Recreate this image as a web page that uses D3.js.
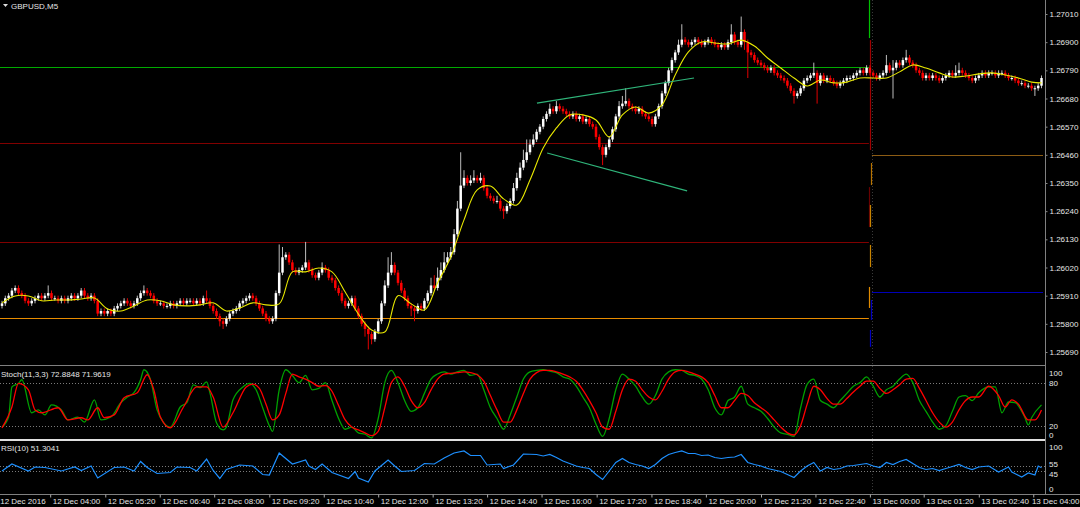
<!DOCTYPE html>
<html><head><meta charset="utf-8">
<script src="https://cdn.jsdelivr.net/npm/d3@7"></script>
<style>html,body{margin:0;padding:0;background:#000;overflow:hidden}svg{display:block}</style>
</head><body>
<svg id="c" width="1080" height="507"></svg>
<script>
// ---------------- DATA ----------------
const chartTitle = "GBPUSD,M5";
const stochTitle = "Stoch(11,3,3) 72.8848 71.9619";
const rsiTitle = "RSI(10) 51.3041";

const openP = [1.2587,1.2588,1.2590,1.2591,1.2593,1.2594,1.2592,1.2591,1.2589,1.2588,
1.2589,1.2590,1.2591,1.2590,1.2591,1.2592,1.2590,1.2590,1.2589,1.2590,
1.2589,1.2590,1.2591,1.2590,1.2591,1.2593,1.2591,1.2590,1.2591,1.2589,
1.2584,1.2585,1.2584,1.2585,1.2584,1.2586,1.2587,1.2588,1.2589,1.2588,
1.2587,1.2588,1.2590,1.2592,1.2593,1.2592,1.2591,1.2589,1.2588,1.2588,
1.2587,1.2587,1.2588,1.2587,1.2588,1.2589,1.2588,1.2589,1.2589,1.2588,
1.2589,1.2588,1.2590,1.2589,1.2587,1.2585,1.2583,1.2581,1.2580,1.2582,
1.2584,1.2585,1.2586,1.2588,1.2589,1.2590,1.2591,1.2590,1.2588,1.2586,
1.2584,1.2582,1.2581,1.2582,1.2592,1.2600,1.2606,1.2607,1.2604,1.2601,
1.2600,1.2601,1.2602,1.2604,1.2601,1.2599,1.2598,1.2600,1.2602,1.2601,
1.2598,1.2597,1.2594,1.2592,1.2589,1.2587,1.2588,1.2590,1.2586,1.2583,
1.2580,1.2578,1.2576,1.2574,1.2577,1.2581,1.2588,1.2595,1.2600,1.2603,
1.2600,1.2596,1.2593,1.2590,1.2587,1.2586,1.2585,1.2587,1.2586,1.2589,
1.2592,1.2595,1.2594,1.2598,1.2601,1.2604,1.2606,1.2608,1.2615,1.2625,
1.2634,1.2637,1.2635,1.2636,1.2637,1.2636,1.2637,1.2633,1.2630,1.2629,
1.2628,1.2628,1.2625,1.2624,1.2626,1.2628,1.2633,1.2637,1.2641,1.2644,
1.2647,1.2650,1.2652,1.2655,1.2657,1.2660,1.2662,1.2664,1.2663,1.2665,
1.2664,1.2663,1.2662,1.2661,1.2662,1.2660,1.2661,1.2659,1.2660,1.2658,
1.2657,1.2653,1.2649,1.2646,1.2649,1.2652,1.2656,1.2661,1.2665,1.2666,
1.2667,1.2665,1.2664,1.2663,1.2664,1.2662,1.2661,1.2660,1.2658,1.2661,
1.2665,1.2670,1.2674,1.2679,1.2683,1.2686,1.2689,1.2691,1.2690,1.2689,
1.2690,1.2691,1.2690,1.2689,1.2690,1.2691,1.2690,1.2689,1.2688,1.2689,
1.2688,1.2690,1.2693,1.2690,1.2689,1.2694,1.2690,1.2686,1.2685,1.2683,
1.2682,1.2681,1.2680,1.2679,1.2680,1.2678,1.2677,1.2676,1.2675,1.2673,
1.2671,1.2669,1.2670,1.2672,1.2675,1.2676,1.2677,1.2678,1.2674,1.2677,
1.2675,1.2676,1.2675,1.2674,1.2673,1.2674,1.2675,1.2676,1.2676,1.2677,
1.2678,1.2679,1.2678,1.2680,1.2678,1.2677,1.2676,1.2677,1.2678,1.2681,
1.2679,1.2680,1.2682,1.2681,1.2683,1.2684,1.2682,1.2681,1.2679,1.2678,
1.2676,1.2677,1.2676,1.2677,1.2676,1.2675,1.2676,1.2677,1.2678,1.2677,
1.2678,1.2679,1.2678,1.2677,1.2676,1.2675,1.2676,1.2677,1.2678,1.2677,
1.2678,1.2678,1.2677,1.2678,1.2678,1.2677,1.2676,1.2676,1.2675,1.2674,
1.2674,1.2673,1.2673,1.2672,1.2672,1.2673];

const highP = [1.2589,1.2591,1.2592,1.2594,1.2595,1.2595,1.2593,1.2592,1.2590,1.2590,
1.2591,1.2592,1.2592,1.2592,1.2595,1.2593,1.2591,1.2591,1.2591,1.2591,
1.2591,1.2592,1.2592,1.2592,1.2594,1.2594,1.2592,1.2592,1.2592,1.2590,
1.2586,1.2586,1.2586,1.2586,1.2587,1.2588,1.2589,1.2590,1.2590,1.2589,
1.2589,1.2591,1.2593,1.2595,1.2594,1.2593,1.2592,1.2590,1.2589,1.2589,
1.2588,1.2589,1.2589,1.2589,1.2590,1.2590,1.2590,1.2590,1.2590,1.2590,
1.2590,1.2591,1.2593,1.2590,1.2588,1.2586,1.2584,1.2582,1.2583,1.2585,
1.2586,1.2587,1.2589,1.2590,1.2591,1.2592,1.2592,1.2591,1.2589,1.2587,
1.2585,1.2583,1.2583,1.2593,1.2611,1.2610,1.2608,1.2608,1.2605,1.2602,
1.2602,1.2603,1.2612,1.2605,1.2602,1.2600,1.2601,1.2604,1.2603,1.2602,
1.2599,1.2598,1.2595,1.2593,1.2590,1.2589,1.2591,1.2591,1.2587,1.2584,
1.2581,1.2579,1.2577,1.2578,1.2582,1.2589,1.2597,1.2606,1.2608,1.2604,
1.2601,1.2597,1.2594,1.2591,1.2588,1.2587,1.2588,1.2588,1.2590,1.2593,
1.2598,1.2599,1.2602,1.2604,1.2608,1.2608,1.2610,1.2617,1.2628,1.2647,
1.2640,1.2638,1.2638,1.2640,1.2638,1.2639,1.2638,1.2634,1.2631,1.2630,
1.2630,1.2629,1.2626,1.2627,1.2629,1.2635,1.2639,1.2643,1.2648,1.2652,
1.2652,1.2654,1.2656,1.2658,1.2661,1.2663,1.2666,1.2665,1.2667,1.2666,
1.2665,1.2664,1.2663,1.2663,1.2663,1.2662,1.2662,1.2661,1.2661,1.2659,
1.2658,1.2654,1.2650,1.2650,1.2653,1.2657,1.2662,1.2667,1.2669,1.2672,
1.2668,1.2666,1.2665,1.2665,1.2665,1.2663,1.2662,1.2661,1.2662,1.2666,
1.2671,1.2675,1.2680,1.2684,1.2687,1.2691,1.2697,1.2692,1.2691,1.2691,
1.2692,1.2692,1.2691,1.2691,1.2692,1.2692,1.2691,1.2690,1.2690,1.2690,
1.2691,1.2697,1.2694,1.2691,1.2700,1.2695,1.2691,1.2687,1.2686,1.2684,
1.2683,1.2682,1.2681,1.2681,1.2681,1.2679,1.2678,1.2677,1.2676,1.2674,
1.2672,1.2671,1.2673,1.2676,1.2677,1.2678,1.2682,1.2679,1.2678,1.2678,
1.2677,1.2677,1.2676,1.2675,1.2675,1.2676,1.2677,1.2677,1.2678,1.2679,
1.2680,1.2680,1.2681,1.2681,1.2679,1.2678,1.2678,1.2679,1.2685,1.2682,
1.2683,1.2683,1.2683,1.2684,1.2687,1.2685,1.2683,1.2682,1.2680,1.2679,
1.2678,1.2678,1.2678,1.2678,1.2677,1.2677,1.2678,1.2679,1.2679,1.2681,
1.2682,1.2680,1.2679,1.2678,1.2677,1.2677,1.2678,1.2679,1.2679,1.2679,
1.2679,1.2679,1.2679,1.2679,1.2679,1.2678,1.2677,1.2677,1.2676,1.2675,
1.2675,1.2674,1.2674,1.2673,1.2674,1.2677];

const lowP = [1.2586,1.2587,1.2589,1.2590,1.2592,1.2591,1.2590,1.2588,1.2587,1.2587,
1.2588,1.2589,1.2589,1.2589,1.2590,1.2589,1.2589,1.2588,1.2588,1.2588,
1.2588,1.2589,1.2589,1.2589,1.2590,1.2590,1.2589,1.2589,1.2588,1.2583,
1.2583,1.2583,1.2583,1.2583,1.2583,1.2585,1.2586,1.2587,1.2587,1.2586,
1.2586,1.2587,1.2589,1.2591,1.2591,1.2590,1.2588,1.2587,1.2587,1.2586,
1.2586,1.2586,1.2586,1.2586,1.2587,1.2587,1.2587,1.2588,1.2587,1.2587,
1.2587,1.2587,1.2588,1.2586,1.2584,1.2582,1.2579,1.2578,1.2579,1.2581,
1.2583,1.2584,1.2585,1.2587,1.2588,1.2589,1.2589,1.2587,1.2585,1.2583,
1.2581,1.2580,1.2580,1.2581,1.2591,1.2599,1.2605,1.2603,1.2600,1.2599,
1.2599,1.2600,1.2601,1.2600,1.2598,1.2597,1.2597,1.2599,1.2600,1.2597,
1.2596,1.2593,1.2591,1.2588,1.2586,1.2586,1.2587,1.2585,1.2582,1.2579,
1.2575,1.2570,1.2572,1.2573,1.2576,1.2580,1.2587,1.2594,1.2599,1.2599,
1.2595,1.2592,1.2589,1.2586,1.2583,1.2581,1.2584,1.2585,1.2585,1.2588,
1.2591,1.2593,1.2593,1.2597,1.2600,1.2603,1.2605,1.2607,1.2614,1.2624,
1.2633,1.2634,1.2634,1.2635,1.2635,1.2635,1.2632,1.2629,1.2628,1.2627,
1.2627,1.2624,1.2621,1.2623,1.2625,1.2627,1.2632,1.2636,1.2640,1.2643,
1.2646,1.2649,1.2651,1.2654,1.2656,1.2659,1.2661,1.2662,1.2662,1.2663,
1.2662,1.2661,1.2660,1.2660,1.2659,1.2659,1.2658,1.2658,1.2657,1.2656,
1.2652,1.2648,1.2642,1.2645,1.2648,1.2651,1.2655,1.2660,1.2664,1.2665,
1.2664,1.2663,1.2662,1.2662,1.2661,1.2660,1.2659,1.2657,1.2657,1.2660,
1.2664,1.2669,1.2673,1.2678,1.2682,1.2685,1.2688,1.2689,1.2688,1.2688,
1.2689,1.2689,1.2688,1.2688,1.2689,1.2689,1.2688,1.2687,1.2687,1.2687,
1.2687,1.2689,1.2689,1.2688,1.2688,1.2687,1.2676,1.2684,1.2682,1.2681,
1.2680,1.2679,1.2678,1.2678,1.2677,1.2676,1.2675,1.2674,1.2672,1.2670,
1.2666,1.2668,1.2669,1.2671,1.2674,1.2675,1.2676,1.2666,1.2673,1.2674,
1.2674,1.2674,1.2673,1.2672,1.2672,1.2673,1.2674,1.2675,1.2675,1.2676,
1.2677,1.2677,1.2677,1.2677,1.2676,1.2675,1.2675,1.2676,1.2677,1.2678,
1.2668,1.2679,1.2680,1.2680,1.2682,1.2681,1.2680,1.2678,1.2677,1.2675,
1.2675,1.2675,1.2675,1.2675,1.2674,1.2674,1.2675,1.2676,1.2676,1.2676,
1.2677,1.2677,1.2676,1.2675,1.2674,1.2674,1.2675,1.2676,1.2676,1.2676,
1.2677,1.2676,1.2676,1.2677,1.2676,1.2675,1.2675,1.2674,1.2673,1.2673,
1.2672,1.2672,1.2671,1.2669,1.2671,1.2672];

const closeP = [1.2588,1.2590,1.2591,1.2593,1.2594,1.2592,1.2591,1.2589,1.2588,1.2589,
1.2590,1.2591,1.2590,1.2591,1.2592,1.2590,1.2590,1.2589,1.2590,1.2589,
1.2590,1.2591,1.2590,1.2591,1.2593,1.2591,1.2590,1.2591,1.2589,1.2584,
1.2585,1.2584,1.2585,1.2584,1.2586,1.2587,1.2588,1.2589,1.2588,1.2587,
1.2588,1.2590,1.2592,1.2593,1.2592,1.2591,1.2589,1.2588,1.2588,1.2587,
1.2587,1.2588,1.2587,1.2588,1.2589,1.2588,1.2589,1.2589,1.2588,1.2589,
1.2588,1.2590,1.2589,1.2587,1.2585,1.2583,1.2581,1.2580,1.2582,1.2584,
1.2585,1.2586,1.2588,1.2589,1.2590,1.2591,1.2590,1.2588,1.2586,1.2584,
1.2582,1.2581,1.2582,1.2592,1.2600,1.2606,1.2607,1.2604,1.2601,1.2600,
1.2601,1.2602,1.2604,1.2601,1.2599,1.2598,1.2600,1.2602,1.2601,1.2598,
1.2597,1.2594,1.2592,1.2589,1.2587,1.2588,1.2590,1.2586,1.2583,1.2580,
1.2578,1.2576,1.2574,1.2577,1.2581,1.2588,1.2595,1.2600,1.2603,1.2600,
1.2596,1.2593,1.2590,1.2587,1.2586,1.2585,1.2587,1.2586,1.2589,1.2592,
1.2595,1.2594,1.2598,1.2601,1.2604,1.2606,1.2608,1.2615,1.2625,1.2634,
1.2637,1.2635,1.2636,1.2637,1.2636,1.2637,1.2633,1.2630,1.2629,1.2628,
1.2628,1.2625,1.2624,1.2626,1.2628,1.2633,1.2637,1.2641,1.2644,1.2647,
1.2650,1.2652,1.2655,1.2657,1.2660,1.2662,1.2664,1.2663,1.2665,1.2664,
1.2663,1.2662,1.2661,1.2662,1.2660,1.2661,1.2659,1.2660,1.2658,1.2657,
1.2653,1.2649,1.2646,1.2649,1.2652,1.2656,1.2661,1.2665,1.2666,1.2667,
1.2665,1.2664,1.2663,1.2664,1.2662,1.2661,1.2660,1.2658,1.2661,1.2665,
1.2670,1.2674,1.2679,1.2683,1.2686,1.2689,1.2691,1.2690,1.2689,1.2690,
1.2691,1.2690,1.2689,1.2690,1.2691,1.2690,1.2689,1.2688,1.2689,1.2688,
1.2690,1.2693,1.2690,1.2689,1.2694,1.2690,1.2686,1.2685,1.2683,1.2682,
1.2681,1.2680,1.2679,1.2680,1.2678,1.2677,1.2676,1.2675,1.2673,1.2671,
1.2669,1.2670,1.2672,1.2675,1.2676,1.2677,1.2678,1.2674,1.2677,1.2675,
1.2676,1.2675,1.2674,1.2673,1.2674,1.2675,1.2676,1.2676,1.2677,1.2678,
1.2679,1.2678,1.2680,1.2678,1.2677,1.2676,1.2677,1.2678,1.2681,1.2679,
1.2680,1.2682,1.2681,1.2683,1.2684,1.2682,1.2681,1.2679,1.2678,1.2676,
1.2677,1.2676,1.2677,1.2676,1.2675,1.2676,1.2677,1.2678,1.2677,1.2678,
1.2679,1.2678,1.2677,1.2676,1.2675,1.2676,1.2677,1.2678,1.2677,1.2678,
1.2678,1.2677,1.2678,1.2678,1.2677,1.2676,1.2676,1.2675,1.2674,1.2674,
1.2673,1.2673,1.2672,1.2672,1.2673,1.2676];

// moving average (yellow), read every 4th bar + last bar
const maValues = [1.25882,1.25909,1.25909,1.25890,1.25893,1.25893,1.25897,1.25901,1.25858,1.25850,
1.25870,1.25893,1.25890,1.25874,1.25870,1.25874,1.25882,1.25850,1.25862,1.25882,
1.25874,1.25878,1.26003,1.26003,1.26018,1.26003,1.25924,1.25838,1.25776,1.25768,
1.25910,1.25878,1.25854,1.25960,1.26061,1.26206,1.26323,1.26338,1.26288,1.26264,
1.26362,1.26487,1.26565,1.26616,1.26616,1.26596,1.26530,1.26616,1.26647,1.26623,
1.26655,1.26772,1.26862,1.26901,1.26897,1.26893,1.26908,1.26885,1.26838,1.26799,
1.26760,1.26729,1.26752,1.26741,1.26744,1.26760,1.26760,1.26760,1.26784,1.26811,
1.26799,1.26780,1.26764,1.26768,1.26776,1.26780,1.26772,1.26760,1.26744,1.26741];

// Stochastic %K (green): bar index + value
const stochKBars = [0,2,3,5,6,9,11,13,15,18,20,23,25,28,30,33,36,38,40,42,43,45,47,49,51,54,56,58,60,62,63,65,67,68,70,73,75,77,79,81,82,84,86,88,90,92,94,96,98,100,102,104,106,108,110,112,114,116,118,120,122,124,126,128,130,132,134,136,138,140,142,144,146,148,150,152,154,156,158,160,162,164,166,168,170,172,174,176,178,180,182,184,186,188,190,192,194,196,198,200,202,204,206,208,210,212,214,216,218,220,222,224,226,228,230,232,234,236,238,240,242,244,246,248,250,252,254,256,258,260,262,264,266,268,270,272,274,276,278,280,282,284,286,288,290,292,294,296,299,301,303,305,307,310,311,312,315];
const stochK = [18,32,74,79,84,38,42,35,49,42,28,32,25,56,28,32,52,60,66,84,98,84,42,24,18,46,52,77,73,81,66,24,14,18,56,74,79,70,45,20,12,70,98,90,80,90,70,72,80,55,30,15,18,10,8,3,30,80,97,80,55,40,45,65,85,92,95,92,95,97,90,92,70,45,30,15,35,60,85,95,97,98,96,94,88,85,75,60,45,22,5,30,70,92,85,75,60,50,62,85,95,98,97,92,90,85,70,45,35,55,60,75,50,45,40,30,18,10,8,5,45,78,85,55,50,45,55,65,75,80,88,75,60,70,75,85,92,80,55,40,25,15,20,40,60,62,55,66,74,74,38,53,52,31,21,31,49];
// Stochastic %D (red)
const stochDBars = [0,3,5,8,10,12,17,20,24,26,29,31,34,37,41,44,46,48,51,55,59,62,64,67,70,74,76,78,80,82,84,86,88,90,92,94,96,98,100,102,104,106,108,110,112,114,116,118,120,122,124,126,128,130,132,134,136,138,140,142,144,146,148,150,152,154,156,158,160,162,164,166,168,170,172,174,176,178,180,182,184,186,188,190,192,194,196,198,200,202,204,206,208,210,212,214,216,218,220,222,224,226,228,230,232,234,236,238,240,242,244,246,248,250,252,254,256,258,260,262,264,266,268,270,272,274,276,278,280,282,284,286,288,290,292,294,296,299,302,304,306,308,311,313,315];
const stochD = [17,46,79,70,42,38,45,28,31,28,45,31,35,59,66,91,70,32,17,46,74,74,60,18,38,74,78,72,50,28,35,65,92,88,85,80,75,76,68,48,28,18,14,10,6,12,45,80,88,75,55,45,52,70,85,92,93,94,95,94,91,82,62,42,25,25,42,65,85,94,97,97,95,92,88,82,70,55,38,18,15,40,70,85,82,70,60,56,68,85,95,97,95,92,88,80,62,45,45,55,65,62,52,45,38,28,18,10,7,20,50,75,70,58,50,50,58,67,75,82,82,72,65,70,77,85,86,72,55,38,25,18,25,42,55,60,60,75,62,46,56,50,28,28,42];
// RSI(10): bar index + value
const rsiBars = [0,3,8,10,13,18,22,24,27,29,34,37,40,42,44,47,51,53,57,59,62,64,66,68,72,76,79,81,84,88,92,93,95,97,100,105,107,108,111,113,117,119,121,125,128,131,134,137,140,142,145,147,151,152,155,158,162,164,166,168,170,172,174,176,178,180,182,184,186,188,190,192,194,196,198,200,202,204,206,208,210,212,214,216,218,220,222,224,226,228,230,232,234,236,238,240,242,244,246,248,250,252,254,256,258,260,262,264,266,268,270,272,274,276,278,280,282,284,286,288,290,292,294,296,299,302,305,306,309,311,313,314,315];
const rsiValues = [45,59,45,53,52,45,53,46,55,31,52,53,45,64,52,40,42,53,52,45,69,46,30,48,57,55,38,37,81,59,67,55,48,59,42,30,44,31,23,45,67,55,44,46,60,59,71,81,85,76,76,57,59,50,57,79,78,75,78,72,65,60,55,52,50,38,28,45,62,70,62,58,55,50,58,70,78,82,85,80,80,76,77,72,70,72,73,78,62,58,55,50,47,44,38,32,45,55,62,45,52,48,50,55,56,58,60,55,52,62,58,64,68,60,52,48,50,46,50,54,58,52,48,53,55,43,53,43,33,41,37,55,51.3];

const priceTicks = [1.27010,1.26900,1.26790,1.26680,1.26570,1.26460,1.26350,1.26240,1.26130,1.26020,1.25910,1.25800,1.25690];
const stochTicks = [100,80,20,0];
const stochLevels = [80,20];
const rsiTicks = [100,55,45,0];
const rsiLevels = [55,45];

const timeLabels = ["12 Dec 2016","12 Dec 04:00","12 Dec 05:20","12 Dec 06:40","12 Dec 08:00","12 Dec 09:20","12 Dec 10:40","12 Dec 12:00","12 Dec 13:20","12 Dec 14:40","12 Dec 16:00","12 Dec 17:20","12 Dec 18:40","12 Dec 20:00","12 Dec 21:20","12 Dec 22:40","13 Dec 00:00","13 Dec 01:20","13 Dec 02:40","13 Dec 04:00"];
const timeLabelBars = [-1.3,14.6,31.3,47.8,64.3,81.0,97.5,114.0,130.5,147.0,163.5,180.2,196.8,213.3,230.0,246.5,263.0,279.3,296.0,312.5];

// pivot-type levels for day 1 and day 2, and the day break bar
const dayBreakBar = 263;
const dayOneLevels = [1.26803,1.26506,1.26120,1.25823];
const dayTwoLevels = [1.26459,1.25924];
// vertical connector segments at the day break (from price, to price)
const connectorFrom = [1.27100,1.26908,1.26428,1.26334,1.26264,1.26108,1.25944,1.25893,1.25776];
const connectorTo   = [1.26916,1.26479,1.26342,1.26178,1.26178,1.26022,1.25862,1.25815,1.25710];

// trend lines (bar index, price)
const trendStartBar = [162.1,165.2];
const trendStartPrice = [1.26662,1.26467];
const trendEndBar = [209.7,207.6];
const trendEndPrice = [1.26760,1.26319];

// ---------------- DRAW ----------------
const svg = d3.select("#c");
const FONT = "'Liberation Sans', Arial, sans-serif";
const FS = 8;
const TXT = "#e6e6e6";
const n = closeP.length;
const axisX = 1045;
const mainBottom = 365, stochTop = 366, stochBottom = 440, rsiTop = 441, rsiBottom = 494;

svg.append("rect").attr("width",1080).attr("height",507).attr("fill","#000");

const x = d3.scaleLinear().domain([0, n-1]).range([2, 1041.5]);
const y = d3.scaleLinear().domain([priceTicks[priceTicks.length-1], priceTicks[0]]).range([352, 14]);
const yS = d3.scaleLinear().domain([0,100]).range([440, 368.3]);
const yR = d3.scaleLinear().domain([0,100]).range([493.5, 443.5]);

const defs = svg.append("defs");
defs.append("clipPath").attr("id","clipMain").append("rect").attr("x",0).attr("y",0).attr("width",axisX).attr("height",mainBottom);
defs.append("clipPath").attr("id","clipStoch").append("rect").attr("x",0).attr("y",stochTop).attr("width",axisX).attr("height",stochBottom-stochTop);
defs.append("clipPath").attr("id","clipRsi").append("rect").attr("x",0).attr("y",rsiTop).attr("width",axisX).attr("height",rsiBottom-rsiTop);

const xBreak = x(dayBreakBar);
// day separator (dotted) through all panels
svg.append("line").attr("x1",Math.round(xBreak)+2.5).attr("x2",Math.round(xBreak)+2.5).attr("y1",0).attr("y2",rsiBottom)
  .attr("stroke","#3a3a3a").attr("stroke-dasharray","1,2");

// main panel
const gm = svg.append("g").attr("clip-path","url(#clipMain)");

const dayOneColors = ["#00aa00","#800000","#800000","#e88c00"];
const dayTwoColors = ["#8c5c14","#0000b8"];
gm.selectAll(".l1").data(dayOneLevels).join("line")
  .attr("x1",0).attr("x2",xBreak-1).attr("y1",d=>Math.round(y(d))+0.5).attr("y2",d=>Math.round(y(d))+0.5)
  .attr("stroke",(d,i)=>dayOneColors[i]).attr("stroke-width",1);
gm.selectAll(".l2").data(dayTwoLevels).join("line")
  .attr("x1",xBreak+2).attr("x2",axisX-2).attr("y1",d=>Math.round(y(d))+0.5).attr("y2",d=>Math.round(y(d))+0.5)
  .attr("stroke",(d,i)=>dayTwoColors[i]).attr("stroke-width",1);
const connColors = ["#00c000","#a00000","#b87400","#6a0000","#c88400","#c88400","#e08a00","#0000c0","#0000c0"];
const connDx = [-1,0,1,-1,0,0,-1,1,0];
gm.selectAll(".cn").data(connectorFrom).join("line")
  .attr("x1",(d,i)=>Math.round(xBreak)+connDx[i]+0.5).attr("x2",(d,i)=>Math.round(xBreak)+connDx[i]+0.5)
  .attr("y1",d=>y(d)).attr("y2",(d,i)=>y(connectorTo[i]))
  .attr("stroke",(d,i)=>connColors[i]).attr("stroke-width",1.2);

// candles
const bars = d3.range(n).map(i=>({i,o:openP[i],h:highP[i],l:lowP[i],c:closeP[i]}));
const cg = gm.append("g");
cg.selectAll(".w").data(bars).join("line")
  .attr("x1",d=>x(d.i)).attr("x2",d=>x(d.i))
  .attr("y1",d=>y(d.h)).attr("y2",d=>y(d.l))
  .attr("stroke",d=>d.c>=d.o?"#bcbcbc":"#e00000").attr("stroke-width",1);
cg.selectAll(".b").data(bars).join("rect")
  .attr("x",d=>x(d.i)-1.25).attr("width",2.5)
  .attr("y",d=>Math.min(y(d.o),y(d.c)))
  .attr("height",d=>Math.max(1,Math.abs(y(d.o)-y(d.c))))
  .attr("fill",d=>d.c>=d.o?"#ffffff":"#ff0000");

// moving average
const maBars = d3.range(0, n-3, 4).concat([n-1]);
gm.append("path").datum(maValues.map((v,k)=>[maBars[k],v]))
  .attr("fill","none").attr("stroke","#e8e800").attr("stroke-width",1.1)
  .attr("d", d3.line().x(d=>x(d[0])).y(d=>y(d[1])).curve(d3.curveCatmullRom));

// trend lines
gm.selectAll(".tl").data(trendStartBar).join("line")
  .attr("x1",d=>x(d)).attr("y1",(d,i)=>y(trendStartPrice[i]))
  .attr("x2",(d,i)=>x(trendEndBar[i])).attr("y2",(d,i)=>y(trendEndPrice[i]))
  .attr("stroke","#2fb57a").attr("stroke-width",1.2);

// title
svg.append("path").attr("d","M3,4 L8,4 L5.5,7 Z").attr("fill","#ddd");
svg.append("text").attr("x",11).attr("y",8.5).text(chartTitle)
  .attr("fill",TXT).attr("font-family",FONT).attr("font-size",FS);

// right price axis
const axisG = svg.append("g").attr("transform",`translate(${axisX+0.5},0)`)
  .call(d3.axisRight(y).tickValues(priceTicks).tickFormat(d3.format(".5f")).tickSize(2).tickPadding(2));
axisG.select(".domain").remove();
axisG.selectAll(".tick line").attr("stroke","#888");
axisG.selectAll(".tick text").attr("fill",TXT).attr("font-family",FONT).attr("font-size",FS);

// frame lines
svg.append("line").attr("x1",axisX+0.5).attr("x2",axisX+0.5).attr("y1",0).attr("y2",rsiBottom).attr("stroke","#808080");
svg.append("line").attr("x1",0).attr("x2",axisX).attr("y1",mainBottom+0.5).attr("y2",mainBottom+0.5).attr("stroke","#808080");
svg.append("line").attr("x1",0).attr("x2",axisX).attr("y1",440).attr("y2",440).attr("stroke","#e0e0e0").attr("stroke-width",2);
svg.append("line").attr("x1",0).attr("x2",1080).attr("y1",rsiBottom+0.5).attr("y2",rsiBottom+0.5).attr("stroke","#808080");

// stochastic panel
const gs = svg.append("g").attr("clip-path","url(#clipStoch)");
gs.selectAll(".sl").data(stochLevels).join("line")
  .attr("x1",0).attr("x2",axisX).attr("y1",d=>Math.round(yS(d))+0.5).attr("y2",d=>Math.round(yS(d))+0.5)
  .attr("stroke","#7a7a7a").attr("stroke-dasharray","1,2");
const sLine = d3.line().x(d=>x(d[0])).y(d=>yS(d[1])).curve(d3.curveMonotoneX);
gs.append("path").datum(stochK.map((v,k)=>[stochKBars[k],v])).attr("fill","none").attr("stroke","#00a000").attr("stroke-width",1.3).attr("d",sLine);
gs.append("path").datum(stochD.map((v,k)=>[stochDBars[k],v])).attr("fill","none").attr("stroke","#ff0000").attr("stroke-width",1.3).attr("d",sLine);
svg.append("text").attr("x",1).attr("y",377).text(stochTitle).attr("fill",TXT).attr("font-family",FONT).attr("font-size",FS);
svg.selectAll(".st").data(stochTicks).join("text")
  .attr("x",axisX+4).attr("y",d=>Math.min(Math.max(yS(d),373),435)+3)
  .text(d=>d).attr("fill",TXT).attr("font-family",FONT).attr("font-size",FS);

// RSI panel
const gr = svg.append("g").attr("clip-path","url(#clipRsi)");
gr.selectAll(".rl").data(rsiLevels).join("line")
  .attr("x1",0).attr("x2",axisX).attr("y1",d=>Math.round(yR(d))+0.5).attr("y2",d=>Math.round(yR(d))+0.5)
  .attr("stroke","#7a7a7a").attr("stroke-dasharray","1,2");
gr.append("path").datum(rsiValues.map((v,k)=>[rsiBars[k],v])).attr("fill","none").attr("stroke","#1e90ff").attr("stroke-width",1.2)
  .attr("d", d3.line().x(d=>x(d[0])).y(d=>yR(d[1])));
svg.append("text").attr("x",1).attr("y",450.5).text(rsiTitle).attr("fill",TXT).attr("font-family",FONT).attr("font-size",FS);
const rsiLabelY = v => v===55 ? yR(v)-2.5 : v===45 ? yR(v)+2.5 : Math.min(Math.max(yR(v),447),489);
svg.selectAll(".rt").data(rsiTicks).join("text")
  .attr("x",axisX+4).attr("y",d=>rsiLabelY(d)+3)
  .text(d=>d).attr("fill",TXT).attr("font-family",FONT).attr("font-size",FS);

// time axis
const tAxis = svg.append("g").attr("transform",`translate(0,${rsiBottom+0.5})`)
  .call(d3.axisBottom(x).tickValues(timeLabelBars).tickFormat((d,i)=>timeLabels[i]).tickSize(3).tickSizeOuter(0));
tAxis.select(".domain").remove();
tAxis.selectAll(".tick line").attr("stroke","#aaa");
tAxis.selectAll(".tick text").attr("text-anchor","start").attr("x",2).attr("y",4).attr("dy","0.71em")
  .attr("fill",TXT).attr("font-family",FONT).attr("font-size",FS);
// keep the last label inside the picture
tAxis.selectAll(".tick").each(function(d){
  const t = d3.select(this).select("text");
  const w = t.node().getComputedTextLength();
  const left = x(d) + 2;
  if (left + w > 1079) t.attr("x", 1079 - w - x(d));
});
</script>
</body></html>
